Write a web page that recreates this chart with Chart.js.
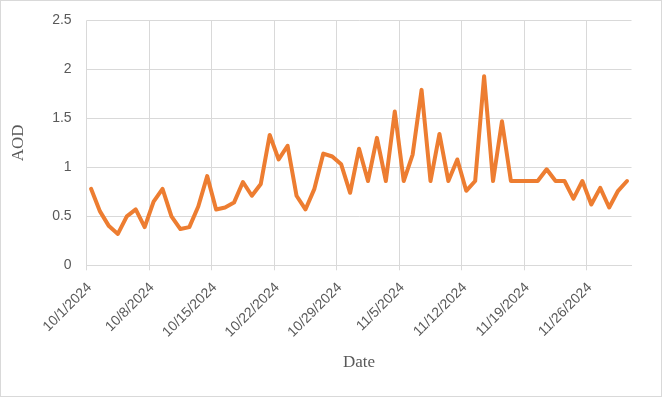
<!DOCTYPE html>
<html>
<head>
<meta charset="utf-8">
<script src="https://cdn.jsdelivr.net/npm/chart.js@4/dist/chart.umd.min.js"></script>
<style>
  html, body { margin: 0; padding: 0; background: #fff; }
  #wrap { width: 662px; height: 397px; box-sizing: border-box; border: 1px solid #d9d9d9; }
  #wrap canvas { display: block; }
</style>
</head>
<body>
<div id="wrap"><canvas id="aodChart" width="660" height="395"></canvas></div>
<script>
// daily AOD, 10/1/2024 .. 11/30/2024
const aodValues = [
  0.78, 0.55, 0.40, 0.32, 0.50, 0.57, 0.39, 0.65, 0.78, 0.50,
  0.37, 0.39, 0.60, 0.91, 0.57, 0.59, 0.64, 0.85, 0.71, 0.83,
  1.33, 1.08, 1.22, 0.71, 0.57, 0.78, 1.14, 1.11, 1.03, 0.74,
  1.19, 0.86, 1.30, 0.86, 1.57, 0.86, 1.13, 1.79, 0.86, 1.34,
  0.86, 1.08, 0.76, 0.86, 1.93, 0.86, 1.47, 0.86, 0.86, 0.86,
  0.86, 0.98, 0.86, 0.86, 0.68, 0.86, 0.62, 0.79, 0.59, 0.76,
  0.86
];

// weekly tick labels on the date axis
const tickLabels = ['10/1/2024', '10/8/2024', '10/15/2024', '10/22/2024', '10/29/2024',
                    '11/5/2024', '11/12/2024', '11/19/2024', '11/26/2024'];
const daysShown = 61;
const yTicks = [0, 0.5, 1, 1.5, 2, 2.5];

const GRID = '#d9d9d9';
const TEXT = '#595959';

// each day sits in the middle of its one-day slot (Excel date axis)
const points = aodValues.map((v, i) => ({ x: i + 0.5, y: v }));

new Chart(document.getElementById('aodChart'), {
  type: 'line',
  data: {
    datasets: [{
      label: 'AOD',
      data: points,
      borderColor: '#ED7D31',
      borderWidth: 4,
      borderJoinStyle: 'round',
      borderCapStyle: 'round',
      pointRadius: 0,
      tension: 0,
      fill: false
    }]
  },
  options: {
    responsive: false,
    animation: false,
    layout: { padding: { left: 0, right: 29.5, top: 19.3, bottom: 0 } },
    plugins: { legend: { display: false }, tooltip: { enabled: false } },
    scales: {
      x: {
        type: 'linear',
        min: 0,
        max: daysShown,
        // fixed box so the plot area lines up with the original
        afterFit: s => { s.height = 130.7; s.paddingTop = 0; s.paddingBottom = 0; },
        grid: { color: GRID, lineWidth: 1, tickLength: 5, drawTicks: true },
        border: { color: GRID },
        ticks: {
          stepSize: 7,
          includeBounds: false,
          autoSkip: false,
          maxRotation: 45,
          minRotation: 45,
          padding: 9,
          labelOffset: 3,
          color: TEXT,
          font: { family: 'Liberation Sans', size: 14 },
          callback: v => tickLabels[v / 7]
        },
        title: {
          display: true,
          text: 'Date',
          color: TEXT,
          font: { family: 'Liberation Serif', size: 17 },
          padding: { top: 0, bottom: 23 }
        }
      },
      y: {
        min: 0,
        max: 2.5,
        afterFit: s => { s.width = 85.6; s.paddingTop = 0; s.paddingBottom = 0; },
        afterBuildTicks: s => { s.ticks = yTicks.map(v => ({ value: v })); },
        grid: { color: GRID, lineWidth: 1, drawTicks: false },
        border: { display: false },
        ticks: {
          padding: 15,
          color: TEXT,
          font: { family: 'Liberation Sans', size: 14 },
          callback: v => String(v)
        },
        title: {
          display: true,
          text: 'AOD',
          color: TEXT,
          font: { family: 'Liberation Serif', size: 17 },
          padding: { top: 7, bottom: 0 }
        }
      }
    }
  }
});
</script>
</body>
</html>
